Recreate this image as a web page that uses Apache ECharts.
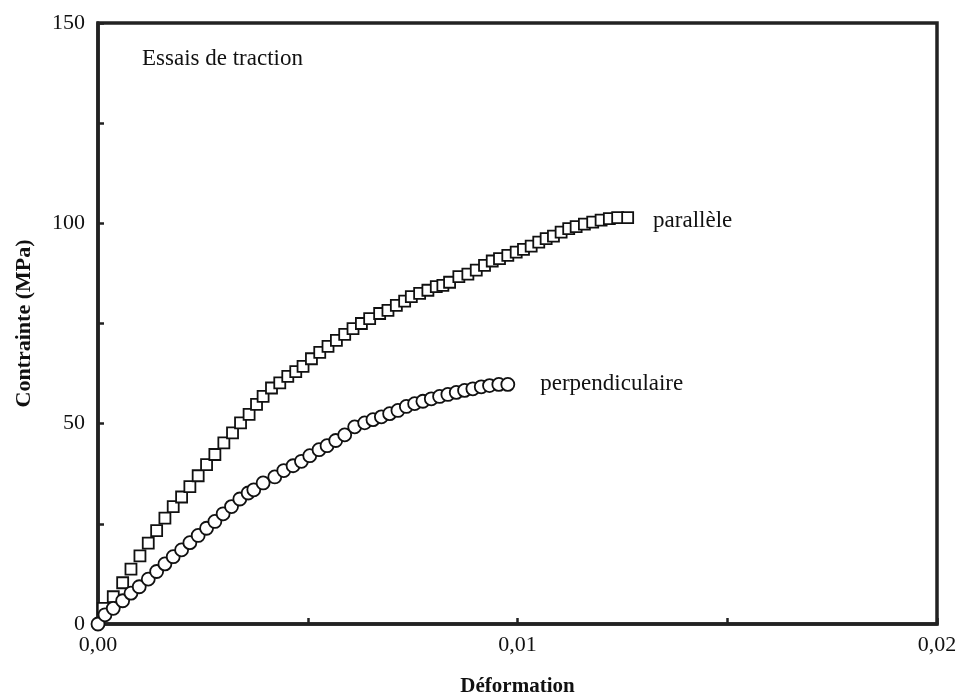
<!DOCTYPE html>
<html>
<head>
<meta charset="utf-8">
<script src="https://cdn.jsdelivr.net/npm/echarts@6/dist/echarts.min.js"></script>
<style>
html,body{margin:0;padding:0;background:#fff;}
#c{width:963px;height:699px;}
</style>
</head>
<body>
<div id="c"></div>
<script>
// Data
var paralleleStrain = [0.000126,0.000364,0.000588,0.000786,0.001000,0.001198,0.001398,0.001595,0.001793,0.001993,0.002190,0.002388,0.002588,0.002786,0.003000,0.003207,0.003398,0.003602,0.003779,0.003936,0.004136,0.004333,0.004524,0.004714,0.004888,0.005088,0.005286,0.005483,0.005683,0.005881,0.006079,0.006279,0.006476,0.006714,0.006912,0.007112,0.007310,0.007469,0.007667,0.007864,0.008064,0.008221,0.008381,0.008602,0.008817,0.009017,0.009214,0.009398,0.009571,0.009769,0.009969,0.010143,0.010326,0.010507,0.010683,0.010857,0.011040,0.011221,0.011398,0.011595,0.011793,0.011993,0.012190,0.012388,0.012626];
var paralleleStress = [3.9,6.8,10.3,13.7,17.0,20.2,23.3,26.4,29.3,31.7,34.3,37.0,39.8,42.3,45.2,47.7,50.2,52.3,54.8,56.8,58.9,60.2,61.8,63.0,64.3,66.2,67.8,69.3,70.8,72.3,73.7,75.0,76.2,77.5,78.3,79.5,80.6,81.7,82.5,83.3,84.2,84.5,85.3,86.7,87.3,88.3,89.5,90.6,91.2,92.0,92.8,93.5,94.3,95.3,96.2,96.8,97.8,98.7,99.2,99.8,100.3,100.8,101.2,101.4,101.4];
var perpStrain = [0,0.000167,0.000364,0.000588,0.000786,0.000983,0.001198,0.001398,0.001595,0.001793,0.001993,0.002190,0.002388,0.002588,0.002786,0.002983,0.003183,0.003381,0.003579,0.003714,0.003936,0.004214,0.004429,0.004650,0.004850,0.005048,0.005269,0.005460,0.005667,0.005881,0.006119,0.006357,0.006555,0.006755,0.006952,0.007150,0.007350,0.007548,0.007745,0.007945,0.008143,0.008340,0.008540,0.008738,0.008936,0.009136,0.009333,0.009555,0.009769];
var perpStress = [0,2.3,3.9,5.8,7.7,9.3,11.2,13.1,15.0,16.8,18.5,20.3,22.1,23.9,25.6,27.5,29.3,31.2,32.7,33.5,35.2,36.7,38.3,39.5,40.6,42.0,43.5,44.5,45.8,47.2,49.2,50.2,51.0,51.7,52.5,53.3,54.3,55.0,55.6,56.2,56.8,57.3,57.8,58.3,58.7,59.2,59.5,59.8,59.8];
var seriesNames = ['parallèle','perpendiculaire'];
var xTickLabels = {0:'0,00', 0.01:'0,01', 0.02:'0,02'};
var yTickLabels = {0:'0', 50:'50', 100:'100', 150:'150'};
var chartTitle = 'Essais de traction';
var xAxisName = 'Déformation';
var yAxisName = 'Contrainte (MPa)';

function zip(a,b){ return a.map(function(v,i){ return [v,b[i]]; }); }
var serif = '"Liberation Serif","DejaVu Serif",serif';

var chart = echarts.init(document.getElementById('c'), null, {renderer:'canvas'});
function lastLabel(name, n, dist, dy){
  return {
    show:true, position:'right', distance:dist, offset:[0,dy],
    fontFamily:serif, fontSize:23, color:'#111', textBorderWidth:0,
    formatter:function(p){ return p.dataIndex === n-1 ? name : ''; }
  };
}
chart.setOption({
  animation:false,
  backgroundColor:'#fff',
  grid:{left:98, right:26, top:23, bottom:75, outerBoundsMode:'none', containLabel:false,
        show:true, borderColor:'#222', borderWidth:3.5, backgroundColor:'transparent'},
  graphic:[{type:'text', left:142, top:47, style:{text:chartTitle, font:'23px '+serif, fill:'#111'}}],
  xAxis:{
    type:'value', min:0, max:0.02, interval:0.005,
    name:xAxisName, nameLocation:'middle', nameGap:52,
    nameTextStyle:{fontFamily:serif, fontSize:21, fontWeight:'bold', color:'#111'},
    axisLine:{show:true, lineStyle:{color:'#222', width:3.5}},
    axisTick:{show:true, inside:true, length:6, lineStyle:{color:'#222', width:2.5}},
    splitLine:{show:false},
    axisLabel:{fontFamily:serif, fontSize:22, color:'#111', margin:10,
      formatter:function(v){ var k=Math.round(v*1000)/1000; return xTickLabels[k]!==undefined ? xTickLabels[k] : ''; }}
  },
  yAxis:{
    type:'value', min:0, max:150, interval:25,
    name:yAxisName, nameLocation:'middle', nameGap:63,
    nameTextStyle:{fontFamily:serif, fontSize:22, fontWeight:'bold', color:'#111'},
    axisLine:{show:true, lineStyle:{color:'#222', width:3.5}},
    axisTick:{show:true, inside:true, length:6, lineStyle:{color:'#222', width:2.5}},
    splitLine:{show:false},
    axisLabel:{fontFamily:serif, fontSize:22, color:'#111', margin:13,
      formatter:function(v){ return yTickLabels[v]!==undefined ? yTickLabels[v] : ''; }}
  },
  series:[
    {name:seriesNames[0], type:'scatter', symbol:'rect', symbolSize:11,
     itemStyle:{color:'#fff', borderColor:'#111', borderWidth:1.8, opacity:1},
     label:lastLabel(seriesNames[0], paralleleStrain.length, 19, 3),
     data:zip(paralleleStrain, paralleleStress)},
    {name:seriesNames[1], type:'scatter', symbol:'circle', symbolSize:13,
     itemStyle:{color:'#fff', borderColor:'#111', borderWidth:1.8, opacity:1},
     label:lastLabel(seriesNames[1], perpStrain.length, 25, 0),
     data:zip(perpStrain, perpStress)}
  ]
});
</script>
</body>
</html>
